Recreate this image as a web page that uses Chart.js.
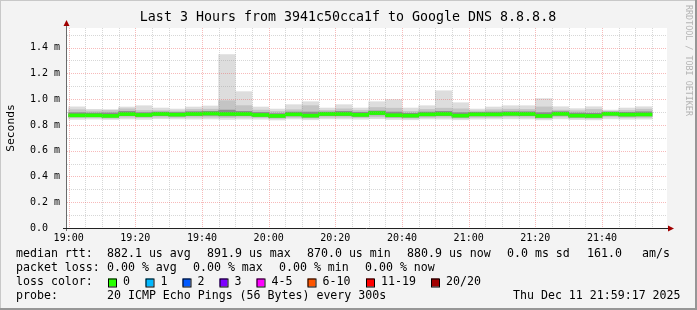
<!DOCTYPE html>
<html lang="en">
<head>
    <meta charset="UTF-8">
    <title>Smokeping - Google DNS</title>
    <script src="https://cdn.jsdelivr.net/npm/chart.js"></script>
    <style>
        body { margin: 0; background: #f3f3f3; }
        #wrap { width: 697px; height: 310px; }
    </style>
</head>
<body>
<div id="wrap"><canvas id="smokeChart" width="697" height="310"></canvas></div>
<script>
    // 5 minute bins (start times), values in ms
    var binTimes = ['19:00','19:05','19:10','19:15','19:20','19:25','19:30','19:35','19:40','19:45','19:50','19:55',
                    '20:00','20:05','20:10','20:15','20:20','20:25','20:30','20:35','20:40','20:45','20:50','20:55',
                    '21:00','21:05','21:10','21:15','21:20','21:25','21:30','21:35','21:40','21:45','21:50'];
    var medianRtt = [0.874,0.874,0.870,0.884,0.877,0.885,0.880,0.885,0.888,0.885,0.885,0.877,
                     0.870,0.882,0.872,0.885,0.885,0.878,0.892,0.875,0.872,0.882,0.885,0.872,
                     0.882,0.882,0.886,0.885,0.870,0.886,0.872,0.870,0.886,0.880,0.881];
    var smokeMax = [0.940,0.921,0.919,0.939,0.949,0.931,0.923,0.939,0.947,1.345,1.058,0.939,
                    0.923,0.957,0.980,0.931,0.957,0.931,0.980,0.996,0.931,0.949,1.065,0.972,
                    0.923,0.939,0.949,0.949,1.004,0.941,0.926,0.941,0.915,0.931,0.941];
    var smokeMin = [0.843,0.845,0.842,0.846,0.843,0.848,0.846,0.845,0.846,0.843,0.845,0.844,
                    0.838,0.846,0.840,0.847,0.846,0.844,0.848,0.842,0.840,0.846,0.845,0.840,
                    0.845,0.846,0.847,0.846,0.839,0.847,0.841,0.839,0.847,0.844,0.845];
    var midHi = [0.918,0.908,0.912,0.925,0.912,0.910,0.908,0.920,0.922,0.988,0.950,0.915,
                 0.905,0.918,0.950,0.912,0.925,0.912,0.935,0.930,0.905,0.920,0.930,0.925,
                 0.908,0.918,0.922,0.920,0.940,0.915,0.910,0.920,0.905,0.912,0.922];
    var midLo = [0.856,0.858,0.852,0.860,0.856,0.860,0.858,0.860,0.860,0.857,0.860,0.856,
                 0.850,0.858,0.852,0.860,0.860,0.856,0.862,0.855,0.852,0.858,0.860,0.852,
                 0.858,0.858,0.862,0.860,0.850,0.862,0.853,0.850,0.862,0.857,0.858];
    var innerHi = [0.895,0.892,0.893,0.905,0.895,0.900,0.896,0.903,0.905,0.915,0.905,0.897,
                   0.888,0.900,0.900,0.900,0.905,0.898,0.908,0.900,0.890,0.900,0.905,0.895,
                   0.898,0.900,0.903,0.902,0.895,0.903,0.892,0.890,0.900,0.898,0.902];
    var innerLo = [0.864,0.866,0.860,0.872,0.866,0.872,0.868,0.872,0.875,0.870,0.872,0.866,
                   0.858,0.870,0.860,0.872,0.872,0.866,0.878,0.862,0.860,0.870,0.872,0.860,
                   0.870,0.870,0.874,0.872,0.858,0.874,0.860,0.858,0.874,0.868,0.870];

    var xTickLabels = ['19:00','19:20','19:40','20:00','20:20','20:40','21:00','21:20','21:40'];
    var yTickValues = [0, 0.2, 0.4, 0.6, 0.8, 1.0, 1.2, 1.4];
    var yTickLabels = ['0.0  ','0.2 m','0.4 m','0.6 m','0.8 m','1.0 m','1.2 m','1.4 m'];

    var lossLabels = ['0','1','2','3','4-5','6-10','11-19','20/20'];
    var lossColors = ['#26ff00','#00b8ff','#0059ff','#7e00ff','#ff00ff','#ff5500','#ff0000','#a10000'];

    // minutes after 19:00
    function toMin(t) {
        var p = t.split(':');
        return (parseInt(p[0]) - 19) * 60 + parseInt(p[1]);
    }
    function band(lo, hi) {
        return binTimes.map(function (t, i) { return { x: toMin(t) + 2.5, y: [lo[i], hi[i]] }; });
    }
    var LINE_HALF = 0.0115; // ~3px median line

    var MONO = '"DejaVu Sans Mono", monospace';

    var rrdPlugin = {
        id: 'rrd',
        beforeDraw: function (chart) {
            var c = chart.ctx, a = chart.chartArea;
            c.save();
            c.fillStyle = '#f3f3f3';
            c.fillRect(0, 0, chart.width, chart.height);
            c.fillStyle = '#ffffff';
            c.fillRect(a.left, a.top, a.right - a.left, a.bottom - a.top);
            c.restore();
        },
        afterDatasetsDraw: function (chart) {
            var c = chart.ctx, a = chart.chartArea;
            var xs = chart.scales.x, ys = chart.scales.y;
            c.save();
            c.lineWidth = 1;
            c.setLineDash([1, 1]);
            // vertical grid every 5 min, red every 20 min
            for (var m = 0; m <= 175; m += 5) {
                var px = Math.round(xs.getPixelForValue(m)) + 0.5;
                c.strokeStyle = (m % 20 === 0) ? 'rgba(235,90,90,0.42)' : 'rgba(150,150,150,0.38)';
                c.beginPath(); c.moveTo(px, a.top); c.lineTo(px, a.bottom); c.stroke();
            }
            for (var k = 1; k <= 15; k++) {
                var py = Math.round(ys.getPixelForValue(k / 10)) + 0.5;
                c.strokeStyle = (k % 2 === 0) ? 'rgba(235,90,90,0.42)' : 'rgba(150,150,150,0.38)';
                c.beginPath(); c.moveTo(a.left, py); c.lineTo(a.right, py); c.stroke();
            }
            c.restore();
        },
        afterDraw: function (chart) {
            var c = chart.ctx, a = chart.chartArea;
            c.save();
            // axes
            c.lineWidth = 1;
            c.strokeStyle = '#6a6a6a';
            c.beginPath();
            c.moveTo(a.left - 0.5, a.bottom + 3); c.lineTo(a.left - 0.5, a.top - 4);
            c.stroke();
            c.strokeStyle = '#222';
            c.beginPath();
            c.moveTo(a.left - 4, a.bottom + 0.5); c.lineTo(a.right + 3, a.bottom + 0.5);
            c.stroke();
            c.fillStyle = '#a00000';
            c.beginPath();
            c.moveTo(a.left - 0.5, a.top - 8); c.lineTo(a.left - 3.5, a.top - 2); c.lineTo(a.left + 2.5, a.top - 2);
            c.closePath(); c.fill();
            c.beginPath();
            c.moveTo(a.right + 7, a.bottom + 0.5); c.lineTo(a.right + 1, a.bottom - 2.5); c.lineTo(a.right + 1, a.bottom + 3.5);
            c.closePath(); c.fill();

            // title
            c.fillStyle = '#000';
            c.textBaseline = 'middle';
            c.textAlign = 'center';
            c.font = '13.3px ' + MONO;
            c.fillText('Last 3 Hours from 3941c50cca1f to Google DNS 8.8.8.8', 348, 18);

            // y title
            c.save();
            c.translate(11, 128);
            c.rotate(-Math.PI / 2);
            c.font = '11.3px ' + MONO;
            c.fillText('Seconds', 0, 0);
            c.restore();

            // watermark
            c.save();
            c.translate(688, 5);
            c.rotate(Math.PI / 2);
            c.textAlign = 'left';
            c.fillStyle = '#b4b4b4';
            c.font = '8.4px ' + MONO;
            c.fillText('RRDTOOL / TOBI OETIKER', 0, 0);
            c.restore();

            // legend
            c.textAlign = 'left';
            c.font = '11.6px ' + MONO;
            var rows = [
                [[16, 'median rtt:'], [107, '882.1 us avg'], [207, '891.9 us max'], [307, '870.0 us min'],
                 [407, '880.9 us now'], [507, '0.0 ms sd'], [587, '161.0'], [642, 'am/s']],
                [[16, 'packet loss:'], [107, '0.00 % avg'], [193, '0.00 % max'], [279, '0.00 % min'], [365, '0.00 % now']],
                [[16, 'loss color:']],
                [[16, 'probe:'], [107, '20 ICMP Echo Pings (56 Bytes) every 300s'], [513, 'Thu Dec 11 21:59:17 2025']]
            ];
            var rowY = [254, 268, 282, 296];
            rows.forEach(function (r, i) {
                r.forEach(function (it) { c.fillText(it[1], it[0], rowY[i]); });
            });
            var boxX = [108, 145.5, 182.5, 219.5, 256.5, 307.5, 366, 431];
            lossLabels.forEach(function (lab, i) {
                c.fillStyle = lossColors[i];
                c.fillRect(boxX[i], 278.5, 8, 8);
                c.strokeStyle = '#000';
                c.strokeRect(boxX[i] + 0.5, 278.5 + 0.5, 8, 8);
                c.fillStyle = '#000';
                c.fillText(lab, boxX[i] + 15, 282);
            });

            // frame shade
            c.fillStyle = '#c8c8c8';
            c.fillRect(0, 0, chart.width, 1);
            c.fillRect(0, 0, 1, chart.height);
            c.fillStyle = '#969696';
            c.fillRect(0, chart.height - 2, chart.width, 2);
            c.fillRect(chart.width - 2, 0, 2, chart.height);
            c.restore();
        }
    };

    var barOpts = { grouped: false, barPercentage: 1, categoryPercentage: 1, borderWidth: 0 };

    var ctx = document.getElementById('smokeChart').getContext('2d');
    var smokeChart = new Chart(ctx, {
        type: 'bar',
        data: {
            datasets: [
                Object.assign({ label: 'median', backgroundColor: '#26ff00',
                    data: band(medianRtt.map(function (v) { return v - LINE_HALF; }),
                               medianRtt.map(function (v) { return v + LINE_HALF; })) }, barOpts),
                Object.assign({ label: 'inner', backgroundColor: '#8c8c8c', data: band(innerLo, innerHi) }, barOpts),
                Object.assign({ label: 'mid', backgroundColor: '#c4c4c4', data: band(midLo, midHi) }, barOpts),
                Object.assign({ label: 'outer', backgroundColor: '#dddddd', data: band(smokeMin, smokeMax) }, barOpts)
            ]
        },
        options: {
            responsive: false,
            animation: false,
            layout: { padding: { top: 28, right: 30, left: 0, bottom: 0 } },
            plugins: { legend: { display: false }, tooltip: { enabled: false } },
            scales: {
                x: {
                    type: 'linear',
                    offset: false,
                    min: -0.5,
                    max: 179.5,
                    grid: { display: false, drawTicks: false, offset: false },
                    border: { display: false },
                    afterFit: function (s) { s.height = 82; },
                    afterBuildTicks: function (s) {
                        s.ticks = xTickLabels.map(function (t) { return { value: toMin(t) }; });
                    },
                    ticks: {
                        autoSkip: false, maxRotation: 0, padding: 4, color: '#000',
                        font: { family: MONO, size: 10 },
                        callback: function (v, i) { return xTickLabels[i]; }
                    }
                },
                y: {
                    min: 0,
                    max: 1.552,
                    grid: { display: false, drawTicks: false },
                    border: { display: false },
                    afterFit: function (s) { s.width = 67; },
                    afterBuildTicks: function (s) {
                        s.ticks = yTickValues.map(function (v) { return { value: v }; });
                    },
                    ticks: {
                        padding: 7, color: '#000',
                        font: { family: MONO, size: 10 },
                        callback: function (v, i) { return yTickLabels[i]; }
                    }
                }
            }
        },
        plugins: [rrdPlugin]
    });
</script>
</body>
</html>
